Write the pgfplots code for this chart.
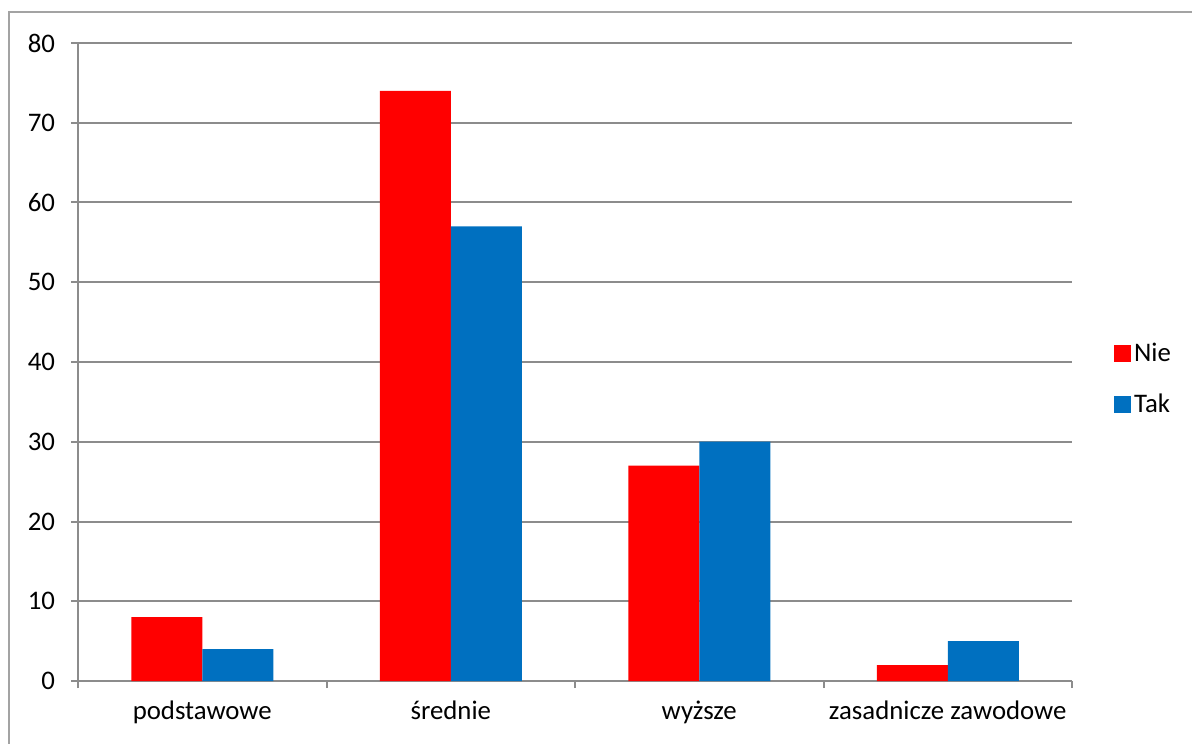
\documentclass[border=0pt]{standalone}
\usepackage{fontspec}
\setmainfont{Carlito}
\usepackage{pgfplots}
\pgfplotsset{compat=1.18}
\definecolor{cred}{RGB}{255,0,0}
\definecolor{cblue}{RGB}{0,112,192}
\definecolor{cgrid}{RGB}{140,140,140}
\begin{document}
\begin{tikzpicture}[x=1pt,y=1pt]
\path[use as bounding box] (0,0) rectangle (596,371.5);
\draw[cgrid!80,line width=1pt] (4.5,-5) -- (4.5,365.5) -- (600,365.5);
\begin{axis}[
  at={(39pt,31pt)}, anchor=south west,
  scale only axis, width=497pt, height=319pt,
  font=\fontsize{13.4}{15}\selectfont,
  /pgf/number format/assume math mode=true,
  ybar=0pt, bar width=35.5pt,
  xmin=-0.5, xmax=3.5, ymin=0, ymax=80,
  ytick={0,10,...,80},
  xtick={0,1,2,3},
  xticklabels={podstawowe,średnie,wyższe,zasadnicze zawodowe},
  minor xtick={-0.5,0.5,1.5,2.5,3.5},
  axis x line*=bottom, axis y line*=left,
  axis line style={cgrid, line width=1pt, -},
  ymajorgrids, grid style={cgrid, line width=1pt},
  tick align=outside,
  major tick length=3.5pt, minor tick length=3.5pt,
  x tick style={draw=none},
  minor x tick style={draw=cgrid, line width=1pt},
  y tick style={draw=cgrid, line width=1pt},
  yticklabel style={xshift=-4.5pt},
  xticklabel style={yshift=-3pt},
  legend style={at={(1.042,0.473)}, anchor=west, draw=none, fill=none,
    font=\fontsize{13.4}{15}\selectfont, row sep=10.5pt, inner sep=0pt},
  legend cell align=left,
  legend image code/.code={\fill (0pt,-4.25pt) rectangle (8.5pt,4.25pt);},
  legend style={/tikz/every even column/.append style={column sep=0pt},
    nodes={inner xsep=1.5pt}},
]
\addplot[fill=cred, draw=none] coordinates {(0,8) (1,74) (2,27) (3,2)};
\addplot[fill=cblue, draw=none] coordinates {(0,4) (1,57) (2,30) (3,5)};
\legend{Nie,Tak}
\end{axis}
\end{tikzpicture}
\end{document}
